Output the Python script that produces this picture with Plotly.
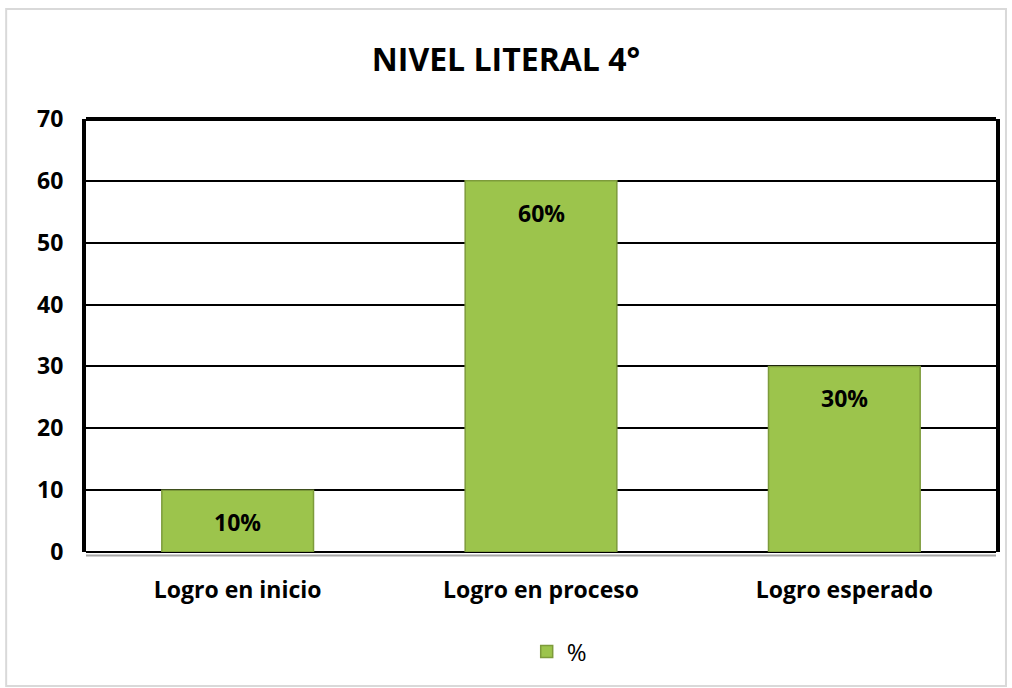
import plotly.graph_objects as go

categories = ["Logro en inicio", "Logro en proceso", "Logro esperado"]
values = [10, 60, 30]
labels = ["10%", "60%", "30%"]
y_ticks = [0, 10, 20, 30, 40, 50, 60, 70]
series_name = "%"
title_text = "NIVEL LITERAL 4°"

FONT = "Open Sans"

fig = go.Figure()
fig.add_trace(go.Bar(
    x=categories, y=values, name=series_name,
    marker=dict(color="#9cc44c", line=dict(color="#7d9b3b", width=1.5)),
    showlegend=True,
))

for c, v, t in zip(categories, values, labels):
    fig.add_annotation(x=c, y=v, text=t, showarrow=False,
                       yshift=-32, font=dict(family=FONT, size=23, color="black", weight="bold"))

fig.update_layout(
    width=1012, height=688,
    paper_bgcolor="white", plot_bgcolor="white",
    margin=dict(l=86, r=14, t=119, b=136),
    title=dict(text=title_text, x=0.5, xanchor="center",
               y=1 - 60/688, yanchor="middle",
               font=dict(family=FONT, size=32, color="black", weight="bold")),
    bargap=0.5,
    showlegend=True,
    legend=dict(orientation="h", x=0.52, xanchor="center", y=-0.231, yanchor="middle",
                font=dict(family=FONT, size=24, color="black")),
    xaxis=dict(showgrid=False, showline=False, ticks="",
               tickfont=dict(family=FONT, size=23, color="black", weight="bold"),
               ticklabelstandoff=22),
    yaxis=dict(range=[0, 70], tickvals=y_ticks, showgrid=True, gridcolor="black",
               gridwidth=1.5, zeroline=True, zerolinecolor="black", zerolinewidth=1.5,
               showline=True, linecolor="black", linewidth=4, mirror=True,
               tickfont=dict(family=FONT, size=23, color="black", weight="bold"),
               ticklabelstandoff=14),
    shapes=[
        dict(type="line", xref="paper", yref="paper", x0=0, x1=1, y0=1, y1=1,
             line=dict(color="black", width=4), layer="above"),
        dict(type="line", xref="paper", yref="paper", x0=0, x1=1, y0=-0.008, y1=-0.008,
             line=dict(color="#a6a6a6", width=2)),
        dict(type="rect", xref="paper", yref="paper",
             x0=-80/912, x1=1 + 10/912, y0=-(688-552-2)/433, y1=1 + (119-9)/433,
             line=dict(color="#d9d9d9", width=2)),
    ],
)

fig.write_html("out.html", config={"displayModeBar": False},
               post_script="document.body.style.margin='0px';document.body.style.overflow='hidden';")
